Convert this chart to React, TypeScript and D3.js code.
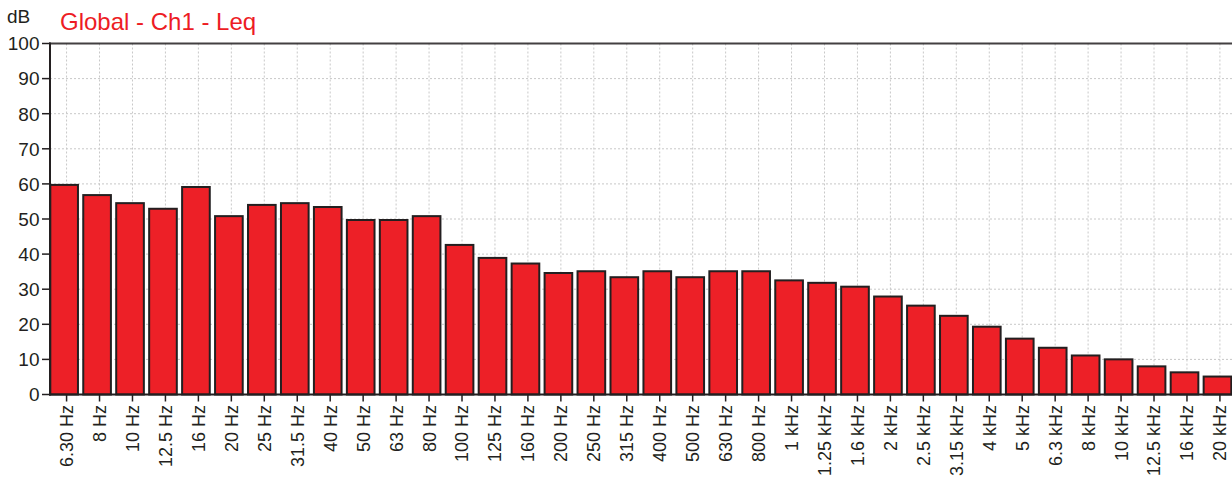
import React from "react";
import * as d3 from "d3";

const categories = [
  "6.30 Hz", "8 Hz", "10 Hz", "12.5 Hz", "16 Hz", "20 Hz", "25 Hz", "31.5 Hz", "40 Hz",
  "50 Hz", "63 Hz", "80 Hz", "100 Hz", "125 Hz", "160 Hz", "200 Hz", "250 Hz", "315 Hz",
  "400 Hz", "500 Hz", "630 Hz", "800 Hz", "1 kHz", "1.25 kHz", "1.6 kHz", "2 kHz",
  "2.5 kHz", "3.15 kHz", "4 kHz", "5 kHz", "6.3 kHz", "8 kHz", "10 kHz", "12.5 kHz",
  "16 kHz", "20 kHz",
];
const values = [
  60.0, 57.1, 54.8, 53.2, 59.4, 51.1, 54.3, 54.8, 53.7,
  50.0, 50.0, 51.1, 42.9, 39.2, 37.6, 34.9, 35.4, 33.7,
  35.4, 33.7, 35.4, 35.4, 32.8, 32.1, 31.0, 28.2,
  25.6, 22.7, 19.6, 16.2, 13.6, 11.4, 10.3, 8.3,
  6.6, 5.4,
];
const yTicks = [0, 10, 20, 30, 40, 50, 60, 70, 80, 90, 100];
const title = "Global - Ch1 - Leq";
const unit = "dB";

const W = 1232, H = 490;
const left = 50, right = 1232, top = 43.5, bottom = 394.5;
const dark = "#231f20";
const font = "Arial, 'Liberation Sans', sans-serif";

export default function App() {
  const x = d3.scaleBand<string>().domain(categories).range([49.3, 1232.3]).paddingInner(0.1).paddingOuter(0);
  const y = d3.scaleLinear().domain([0, 100]).range([bottom, top]);
  const step = x.step();
  const bw = x.bandwidth();
  const tx = (c: string) => (x(c) as number) + step / 2 + 0.8;

  return (
    <svg width={W} height={H} style={{ position: "absolute", left: 0, top: 0, background: "#fff" }} fontFamily={font}>
      {yTicks.filter(t => t > 0 && t < 100).map(t => (
        <line key={"h" + t} x1={left} x2={right} y1={y(t)} y2={y(t)} stroke="#c8c8c8" strokeWidth={1} strokeDasharray="2,2" />
      ))}
      {categories.map(c => (
        <line key={"v" + c} x1={tx(c)} x2={tx(c)} y1={top} y2={bottom} stroke="#c8c8c8" strokeWidth={1} strokeDasharray="2,2" />
      ))}
      {categories.map((c, i) => (
        <rect key={"b" + c} x={(x(c) as number) + 1} width={bw - 2} y={y(values[i]) + 1} height={bottom - y(values[i]) - 1}
          fill="#ed2027" stroke={dark} strokeWidth={2} />
      ))}
      <line x1={left - 1} x2={right} y1={top} y2={top} stroke={dark} strokeWidth={2} opacity={0.85} />
      <line x1={left} x2={left} y1={top - 1} y2={bottom + 1} stroke={dark} strokeWidth={2} />
      <line x1={left - 1} x2={right} y1={bottom} y2={bottom} stroke={dark} strokeWidth={2} />
      {yTicks.map(t => (
        <g key={"yt" + t}>
          <line x1={42} x2={left} y1={y(t)} y2={y(t)} stroke={dark} strokeWidth={1.5} />
          <text x={39.5} y={y(t)} dy="0.36em" textAnchor="end" fontSize={19} fill={dark}>{t}</text>
        </g>
      ))}
      {categories.map(c => (
        <g key={"xt" + c}>
          <line x1={tx(c)} x2={tx(c)} y1={bottom} y2={401.5} stroke={dark} strokeWidth={1.5} />
          <text transform={`translate(${tx(c)},405) rotate(-90)`} dy="0.36em" textAnchor="end" fontSize={18} fill={dark}>{c}</text>
        </g>
      ))}
      <text x={7} y={23} fontSize={19} fill={dark}>{unit}</text>
      <text x={60} y={30} fontSize={24} fill="#ed1c24">{title}</text>
    </svg>
  );
}
